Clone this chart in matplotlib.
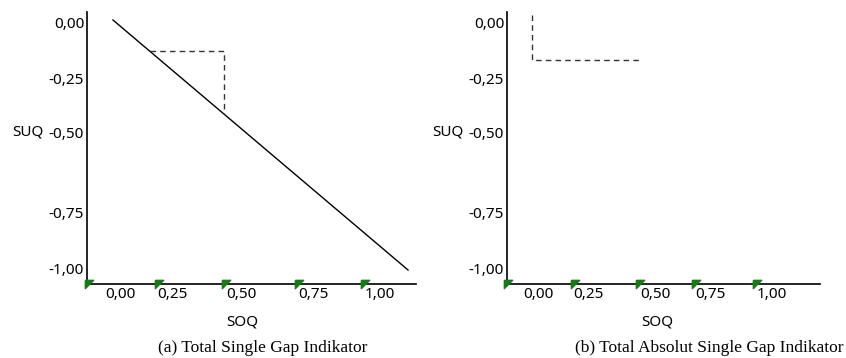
import matplotlib.pyplot as plt
import numpy as np

# data (in data units)
soq_a = [0.0, 1.0]
suq_a = [0.0, -1.0]
gap_a_x = [0.125, 0.375, 0.375]
gap_a_y = [-0.125, -0.125, -0.375]

gap_b_x = [0.0, 0.0, 0.39]
gap_b_y = [0.02, -0.16, -0.16]

tick_text = ['0,00', '0,25', '0,50', '0,75', '1,00']
ytick_text = ['0,00', '-0,25', '-0,50', '-0,75', '-1,00']
# label positions as drawn by the original (not evenly spread)
ytick_pos = [-0.01, -0.236, -0.448, -0.772, -0.992]
xtick_pos_a = [0.024, 0.203, 0.437, 0.678, 0.905]
marker_pos_a = [-0.081, 0.156, 0.383, 0.631, 0.854]
xtick_pos_b = [0.025, 0.203, 0.442, 0.638, 0.855]
marker_pos_b = [-0.085, 0.153, 0.385, 0.585, 0.803]

captions = ['(a) Total Single Gap Indikator', '(b) Total Absolut Single Gap Indikator']

flag = [(-0.5, 0.5), (0.5, 0.5), (-0.5, -0.5), (-0.5, 0.5)]

fig = plt.figure(figsize=(8.46, 3.58), dpi=100)
ax_a = fig.add_axes([87 / 846, 74 / 358, 329 / 846, 272 / 358])
ax_b = fig.add_axes([507 / 846, 74 / 358, 313 / 846, 272 / 358])

ax_a.plot(soq_a, suq_a, c='black', lw=1)
ax_a.plot(gap_a_x, gap_a_y, c='#333333', lw=1, ls=(0, (4, 3)))
ax_b.plot(gap_b_x, gap_b_y, c='#333333', lw=1, ls=(0, (4, 3)))

setups = [(ax_a, xtick_pos_a, marker_pos_a, 242 / 846, 263 / 846, 28 / 846, captions[0]),
          (ax_b, xtick_pos_b, marker_pos_b, 657 / 846, 709 / 846, 448 / 846, captions[1])]
for ax, xpos, mpos, soq_x, cap_x, suq_x, cap in setups:
    ax.set_xlim(-0.088, 1.027)
    ax.set_ylim(-1.056, 0.032)
    for s in ['top', 'right']:
        ax.spines[s].set_visible(False)
    ax.spines['left'].set_linewidth(1.2)
    ax.spines['bottom'].set_linewidth(1.2)
    ax.set_xticks(xpos)
    ax.set_xticklabels(tick_text)
    ax.set_yticks(ytick_pos)
    ax.set_yticklabels(ytick_text)
    ax.tick_params(length=0, pad=2, labelsize=11)
    for lab in ax.get_xticklabels() + ax.get_yticklabels():
        lab.set_family('Noto Sans')
    ax.plot(mpos, [-1.056] * len(mpos), ls='none', marker=flag, ms=6,
            c='#1a7a1a', clip_on=False, zorder=5)
    fig.text(soq_x, 1 - 322 / 358, 'SOQ', ha='center', va='center',
             family='Noto Sans', fontsize=11)
    fig.text(suq_x, 1 - 132 / 358, 'SUQ', ha='center', va='center',
             family='Noto Sans', fontsize=11)
    fig.text(cap_x, 1 - 348 / 358, cap, ha='center', va='center',
             family='Liberation Serif', fontsize=12.5)

plt.savefig('out.png', dpi=100)
